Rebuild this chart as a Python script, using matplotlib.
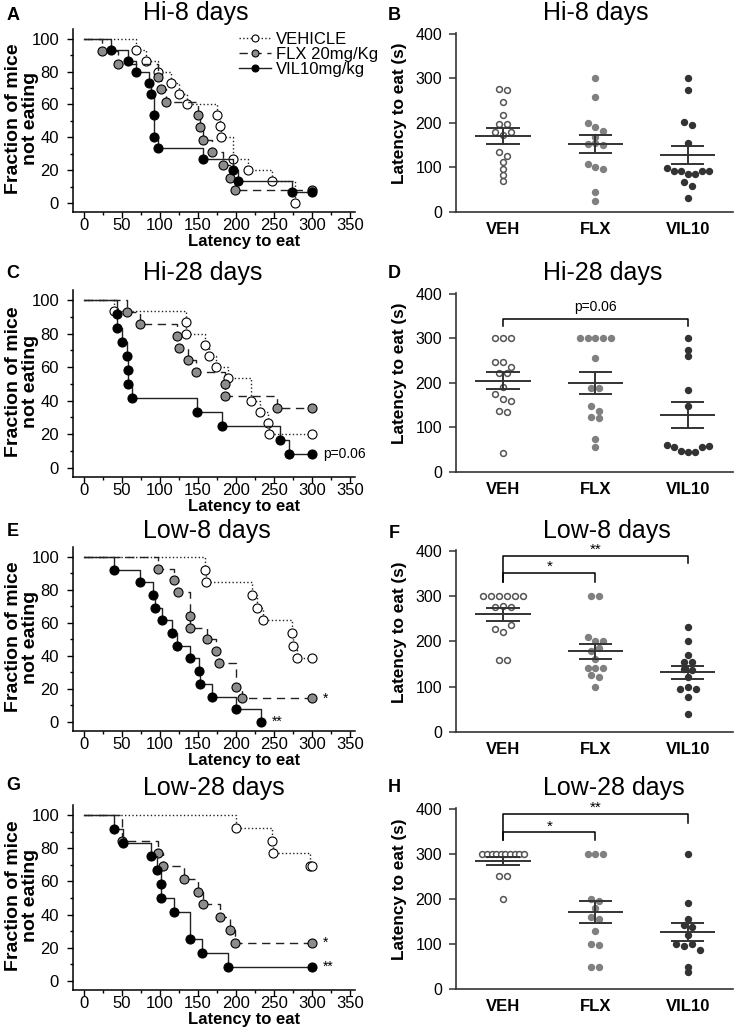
import matplotlib
matplotlib.use('Agg')
import matplotlib.pyplot as plt
from matplotlib.lines import Line2D
import numpy as np

plt.rcParams['font.family'] = ['Liberation Sans', 'DejaVu Sans']

# Survival curves: event time (s) and % mice still not eating
hi8_veh_t = [69, 81, 98, 114, 125, 136, 175, 179, 180, 196, 216, 247, 277]
hi8_veh_p = [93.3, 86.7, 80, 73.3, 66.7, 60, 53.3, 46.7, 40, 26.7, 20, 13.3, 0]
hi8_flx_t = [24, 45, 98, 101, 108, 150, 153, 156, 168, 183, 192, 199, 300]
hi8_flx_p = [92.3, 84.6, 76.9, 69.2, 61.5, 53.8, 46.2, 38.5, 30.8, 23.1, 15.4, 7.7, 7.7]
hi8_vil_t = [35, 58, 68, 85, 88, 92, 92, 98, 156, 196, 203, 274, 300]
hi8_vil_p = [93.3, 86.7, 80, 73.3, 66.7, 53.3, 40, 33.3, 26.7, 20, 13.3, 6.7, 6.7]

hi28_veh_t = [40, 134, 134, 159, 164, 174, 189, 220, 232, 242, 244, 300]
hi28_veh_p = [93.3, 86.7, 80, 73.3, 66.7, 60, 53.3, 40, 33.3, 26.7, 20, 20]
hi28_flx_t = [56, 74, 122, 125, 137, 147, 185, 186, 254, 300]
hi28_flx_p = [92.9, 85.7, 78.6, 71.4, 64.3, 57.1, 50, 42.9, 35.7, 35.7]
hi28_vil_t = [44, 44, 50, 57, 58, 58, 63, 149, 182, 258, 270, 300]
hi28_vil_p = [91.7, 83.3, 75, 66.7, 58.3, 50, 41.7, 33.3, 25, 16.7, 8.3, 8.3]

low8_veh_t = [159, 160, 221, 227, 236, 274, 275, 280, 300]
low8_veh_p = [92.3, 84.6, 76.9, 69.2, 61.5, 53.8, 46.2, 38.5, 38.5]
low8_flx_t = [98, 118, 124, 140, 140, 162, 174, 177, 200, 208, 300]
low8_flx_p = [92.9, 85.7, 78.6, 64.3, 57.1, 50, 42.9, 35.7, 21.4, 14.3, 14.3]
low8_vil_t = [39, 74, 91, 93, 102, 116, 123, 140, 151, 153, 169, 200, 233]
low8_vil_p = [92.3, 84.6, 76.9, 69.2, 61.5, 53.8, 46.2, 38.5, 30.8, 23.1, 15.4, 7.7, 0]

low28_veh_t = [200, 248, 249, 297, 300]
low28_veh_p = [92.3, 84.6, 76.9, 69.2, 69.2]
low28_flx_t = [50, 98, 104, 131, 150, 157, 179, 192, 199, 300]
low28_flx_p = [84.6, 76.9, 69.2, 61.5, 53.8, 46.2, 38.5, 30.8, 23.1, 23.1]
low28_vil_t = [39, 51, 88, 96, 101, 101, 119, 139, 155, 190, 300]
low28_vil_p = [91.7, 83.3, 75, 66.7, 58.3, 50, 41.7, 25, 16.7, 8.3, 8.3]

# Latency to eat (s), per mouse (listed roughly left to right within a row)
groups = ['VEH', 'FLX', 'VIL10']
hi8_veh = [277, 274, 247, 217, 197, 197, 180, 173, 180, 135, 125, 112, 97, 82, 70]
hi8_flx = [300, 258, 200, 192, 183, 168, 153, 155, 150, 108, 101, 97, 46, 25]
hi8_vil = [300, 274, 203, 196, 155, 99, 92, 92, 86, 86, 92, 92, 67, 58, 32]

hi28_veh = [300, 300, 300, 247, 247, 236, 223, 222, 190, 176, 165, 160, 136, 135, 42]
hi28_flx = [300, 300, 300, 300, 300, 257, 189, 189, 148, 138, 124, 122, 75, 57]
hi28_vil = [300, 275, 261, 184, 149, 61, 57, 48, 44, 44, 57, 59]

low8_veh = [300, 300, 300, 300, 300, 300, 277, 278, 277, 228, 221, 236, 160, 160]
low8_flx = [300, 300, 209, 200, 200, 178, 185, 161, 141, 141, 141, 125, 121, 99]
low8_vil = [233, 200, 170, 154, 154, 140, 138, 121, 94, 100, 95, 77, 39]

low28_veh = [300, 300, 300, 300, 300, 300, 300, 300, 300, 300, 250, 250, 200]
low28_flx = [300, 300, 300, 199, 195, 181, 159, 155, 129, 100, 97, 49, 49]
low28_vil = [300, 190, 156, 142, 138, 121, 101, 95, 101, 86, 49, 37]

W, H = 750, 1032
fig = plt.figure(figsize=(W / 100, H / 100), dpi=100)


def rect(l, t, r, b):
    return [l / W, 1 - b / H, (r - l) / W, (b - t) / H]


def km_panel(box, curves, notes, legend=False):
    ax = fig.add_axes(rect(*box))
    hpx = box[3] - box[1]
    styles = [(':', 'white'), ((0, (6, 4)), '#8c8c8c'), ('-', 'black')]
    for (t, p), (ls, fc) in zip(curves, styles):
        ax.step([0] + t, [100] + p, where='post', color='#222222', ls=ls, lw=1)
        ax.plot(t, p, 'o', ls='none', ms=6.5, mfc=fc, mec='black', mew=0.8,
                clip_on=False)
    for x, y, s in notes:
        ax.annotate(s, (x, y), xytext=(8, 0), textcoords='offset points',
                    fontsize=10, va='center', ha='left')
    ax.set_xlim(-14.5, 356.6)
    ax.set_ylim(-5.5, 106)
    ax.set_xticks(np.arange(0, 351, 50))
    ax.set_xticks(np.arange(0, 351, 25), minor=True)
    ax.set_yticks(np.arange(0, 101, 20))
    ax.set_yticks(np.arange(0, 101, 10), minor=True)
    ax.tick_params(axis='both', which='major', labelsize=12, length=4, width=1)
    ax.tick_params(axis='both', which='minor', length=2.5, width=1)
    ax.tick_params(axis='x', pad=0.5)
    ax.tick_params(axis='y', pad=6)
    for sp in ['top', 'right']:
        ax.spines[sp].set_visible(False)
    for sp in ['left', 'bottom']:
        ax.spines[sp].set_linewidth(1.1)
    ax.set_xlabel('Latency to eat', fontsize=12, fontweight='bold')
    ax.xaxis.set_label_coords(0.606, -22 / hpx)
    ax.set_ylabel('Fraction of mice\nnot eating', fontsize=14, fontweight='bold',
                  linespacing=1.0)
    ax.yaxis.set_label_coords(-0.122, 0.51)
    if legend:
        handles = [Line2D([], [], color='#222222', ls=ls, lw=1, marker='o', ms=5,
                          mfc=fc, mec='black', mew=0.8) for ls, fc in styles]
        ax.legend(handles, ['VEHICLE', 'FLX 20mg/Kg', 'VIL10mg/kg'], loc='upper left',
                  bbox_to_anchor=(0.59, 0.985), frameon=False, fontsize=12,
                  handlelength=1.9, handletextpad=0.3, labelspacing=0.0,
                  borderpad=0, borderaxespad=0)
    return ax


def swarm(vals, step=0.085, max_w=0.45, gap=12):
    vals = np.asarray(vals, float)
    order = np.argsort(-vals, kind='stable')
    rows = []
    for k in order:
        if rows and vals[rows[-1][-1]] - vals[k] < gap:
            rows[-1].append(k)
        else:
            rows.append([k])
    offs = np.zeros(len(vals))
    for row in rows:
        row = sorted(row)
        n = len(row)
        sp = step if n < 2 else min(step, max_w / (n - 1))
        for j, k in enumerate(row):
            offs[k] = (j - (n - 1) / 2) * sp
    return offs


def dot_panel(box, data, brackets):
    ax = fig.add_axes(rect(*box))
    looks = [('white', '#555555'), ('#808080', '#808080'), ('#333333', '#333333')]
    for i, (vals, (fc, ec)) in enumerate(zip(data, looks)):
        ax.plot(i + swarm(vals), vals, 'o', ls='none', ms=4.2, mfc=fc, mec=ec,
                mew=1.1, clip_on=False)
        m = np.mean(vals)
        se = np.std(vals, ddof=1) / np.sqrt(len(vals))
        ax.hlines(m, i - 0.3, i + 0.3, color='#333333', lw=1.4)
        ax.hlines([m - se, m + se], i - 0.18, i + 0.18, color='#333333', lw=1.4)
        ax.vlines(i, m - se, m + se, color='#333333', lw=1.4)
    for i, j, ytop, ylo_i, ylo_j, txt, ytxt, fs in brackets:
        ax.plot([i, i, j, j], [ylo_i, ytop, ytop, ylo_j], color='black', lw=1.1,
                clip_on=False)
        ax.text((i + j) / 2, ytxt, txt, ha='center', va='center', fontsize=fs)
    ax.set_xlim(-0.51, 2.49)
    ax.set_ylim(0, 402)
    ax.set_yticks([0, 100, 200, 300, 400])
    ax.set_xticks([0, 1, 2])
    ax.set_xticklabels(groups, fontsize=12, fontweight='bold')
    ax.tick_params(axis='y', labelsize=11.5, length=5, width=1.1, color='#333333',
                   pad=5)
    ax.tick_params(axis='x', length=0, pad=7)
    for sp in ['top', 'right']:
        ax.spines[sp].set_visible(False)
    for sp in ['left', 'bottom']:
        ax.spines[sp].set_linewidth(1.2)
        ax.spines[sp].set_color('#333333')
    ax.set_ylabel('Latency to eat (s)', fontsize=12.4, fontweight='bold')
    ax.yaxis.set_label_coords(-0.177, 0.55)
    return ax


km_panel((73, 29, 355, 212),
         [(hi8_veh_t, hi8_veh_p), (hi8_flx_t, hi8_flx_p), (hi8_vil_t, hi8_vil_p)],
         [], legend=True)
km_panel((73, 290, 355, 477),
         [(hi28_veh_t, hi28_veh_p), (hi28_flx_t, hi28_flx_p), (hi28_vil_t, hi28_vil_p)],
         [(300, hi28_vil_p[-1], 'p=0.06')])
km_panel((73, 547, 355, 731),
         [(low8_veh_t, low8_veh_p), (low8_flx_t, low8_flx_p), (low8_vil_t, low8_vil_p)],
         [(300, low8_flx_p[-1], '*'), (low8_vil_t[-1], low8_vil_p[-1], '**')])
km_panel((73, 805, 355, 990),
         [(low28_veh_t, low28_veh_p), (low28_flx_t, low28_flx_p), (low28_vil_t, low28_vil_p)],
         [(300, low28_flx_p[-1], '*'), (300, low28_vil_p[-1], '**')])

dot_panel((456, 33, 733, 212), [hi8_veh, hi8_flx, hi8_vil], [])
dot_panel((456, 293, 733, 472), [hi28_veh, hi28_flx, hi28_vil],
          [(0, 2, 344, 329, 329, 'p=0.06', 370, 10)])
dot_panel((456, 550, 733, 732), [low8_veh, low8_flx, low8_vil],
          [(0, 1, 351, 332, 332, '*', 364, 11), (0, 2, 389, 332, 373, '**', 402, 11)])
dot_panel((456, 808, 733, 989), [low28_veh, low28_flx, low28_vil],
          [(0, 1, 348, 330, 330, '*', 361, 11), (0, 2, 389, 330, 369, '**', 402, 11)])

# panel letters and titles (pixel positions)
letters = ['A', 'B', 'C', 'D', 'E', 'F', 'G', 'H']
letter_x = [13, 394, 13, 394, 13, 394, 13, 394]
letter_y = [15, 15, 274, 273, 532, 533, 785, 788]
for s, x, y in zip(letters, letter_x, letter_y):
    fig.text(x / W, 1 - y / H, s, fontsize=13, fontweight='bold', ha='center',
             va='center')

titles = ['Hi-8 days', 'Hi-8 days', 'Hi-28 days', 'Hi-28 days',
          'Low-8 days', 'Low-8 days', 'Low-28 days', 'Low-28 days']
title_x = [143, 543, 143, 543, 143, 543, 143, 543]
title_y = [13, 13, 273, 273, 531, 531, 788, 788]
for s, x, y in zip(titles, title_x, title_y):
    fig.text(x / W, 1 - y / H, s, fontsize=18, ha='left', va='center')

fig.savefig('out.png', dpi=100)
